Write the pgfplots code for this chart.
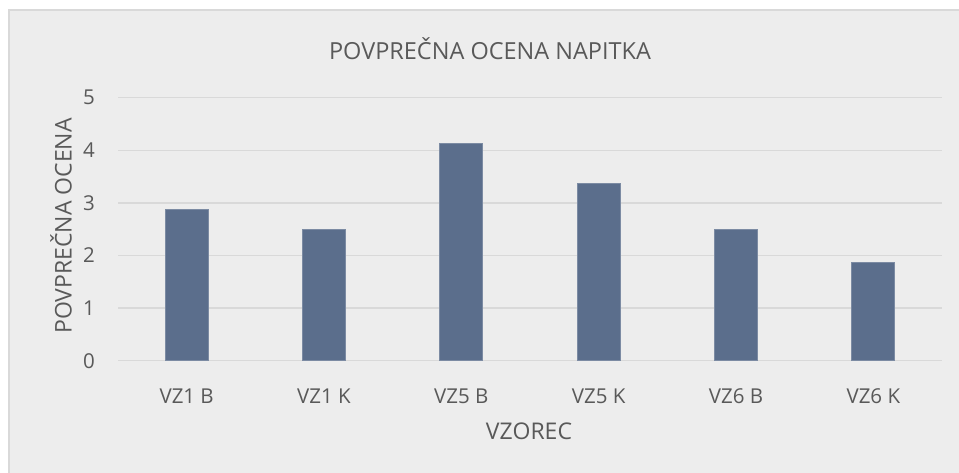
\documentclass[border=0pt]{standalone}
\usepackage{fontspec}
\setmainfont{Open Sans}
\usepackage{pgfplots}
\pgfplotsset{compat=1.18}
\definecolor{bg}{HTML}{EDEDED}
\definecolor{frm}{HTML}{D9D9D9}
\definecolor{gridc}{HTML}{D9D9D9}
\definecolor{barc}{HTML}{5B6E8C}
\definecolor{txt}{HTML}{595959}
\begin{document}
\begin{tikzpicture}[x=1bp,y=1bp]
\useasboundingbox (0,0) rectangle (959,473);
\fill[white] (0,0) rectangle (959,473);
\filldraw[fill=bg, draw=frm, line width=1.5bp] (9,-5) rectangle (970,463);
\begin{axis}[
  at={(118bp,112.3bp)}, anchor=south west,
  scale only axis, width=824bp, height=263bp,
  xmin=-0.5, xmax=5.5, ymin=0, ymax=5,
  ytick={0,1,2,3,4,5}, xtick={0,1,2,3,4,5},
  xticklabels={VZ1 B,VZ1 K,VZ5 B,VZ5 K,VZ6 B,VZ6 K},
  axis line style={draw=none},
  tick style={draw=none},
  ymajorgrids, major grid style={gridc, line width=1.5bp},
  /pgf/number format/assume math mode=true,
  ticklabel style={font=\fontsize{20.5bp}{24bp}\selectfont, text=txt},
  xticklabel style={anchor=center, inner sep=0pt, yshift=-31bp},
  yticklabel style={anchor=east, inner sep=0pt, xshift=-23bp},
  ybar, bar width=0.313,
]
\addplot[fill=barc, draw=barc!80!white, line width=0.8bp] coordinates {
  (0,2.875) (1,2.5) (2,4.125) (3,3.375) (4,2.5) (5,1.875)
};
\end{axis}
\node[text=txt, font=\fontsize{23.5bp}{28bp}\selectfont] at (490,424) {POVPREČNA OCENA NAPITKA};
\node[text=txt, font=\fontsize{23bp}{28bp}\selectfont] at (529,42) {VZOREC};
\node[text=txt, font=\fontsize{23bp}{28bp}\selectfont, rotate=90] at (61,247) {POVPREČNA OCENA};
\end{tikzpicture}
\end{document}
